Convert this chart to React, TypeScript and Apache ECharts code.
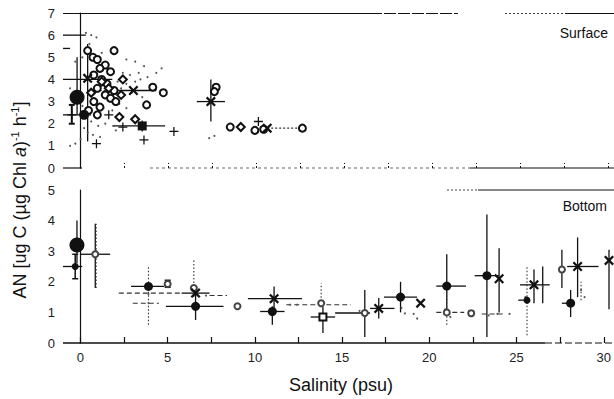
import React, { useEffect, useRef } from "react";
import * as echarts from "echarts";

// ---------- axis settings ----------
const xLabelValues = [0, 5, 10, 15, 20, 25, 30];
const xTickValues = [0, 2.5, 5, 7.5, 10, 12.5, 15, 17.5, 20, 22.5, 25, 27.5, 30];

// ---------- SURFACE panel ----------
const surfBigFilled = [[-0.2, 3.2]];
const surfFilled = [[0.2, 2.4]];
const surfSquare = [[3.5, 1.9]];
const surfCross = [[0.4, 4.05], [3.0, 3.5], [7.4, 3.0], [10.6, 1.8]];
const surfPlus = [[-0.5, 2.4], [0.9, 1.1], [1.6, 2.4], [2.4, 1.85], [3.6, 1.27], [5.3, 1.65], [10.1, 2.1]];
const surfCircle = [
  [0.4, 5.3], [0.7, 5.0], [0.95, 4.9], [1.4, 4.65], [1.1, 4.5], [1.7, 4.35], [0.75, 4.2], [1.2, 4.0],
  [1.5, 3.8], [0.95, 3.6], [1.9, 3.5], [1.4, 3.3], [1.7, 3.15], [2.0, 3.0], [0.75, 3.0], [1.1, 2.75],
  [0.45, 2.6], [0.95, 2.4], [1.9, 5.3], [4.1, 3.65], [4.7, 3.4], [3.75, 2.85], [7.7, 3.65], [7.6, 3.45],
  [8.5, 1.85], [9.9, 1.7], [10.4, 1.75], [12.6, 1.8]
];
const surfDiamond = [[2.2, 2.3], [3.1, 2.2], [1.2, 3.9], [1.6, 3.6], [2.3, 3.3], [0.6, 3.4], [9.1, 1.85], [2.4, 4.0]];
const surfDots = [
  [0.3, 6.1], [0.6, 6.0], [0.9, 5.9], [0.5, 5.6], [1.2, 5.2], [0.1, 5.0], [-0.3, 4.8], [2.6, 4.9],
  [3.1, 4.8], [3.6, 4.6], [4.6, 4.5], [2.4, 4.3], [2.8, 4.2], [3.3, 4.3], [3.8, 4.1], [2.1, 3.9],
  [2.6, 3.8], [3.1, 3.9], [2.3, 3.6], [2.9, 3.4], [3.5, 3.2], [-0.6, 3.6], [-0.4, 3.0], [0.1, 2.8],
  [0.6, 2.1], [1.0, 1.9], [1.4, 2.0], [1.9, 1.9], [2.0, 1.7], [0.2, 1.8], [0.4, 1.6], [0.7, 1.5],
  [1.1, 1.4], [0.0, 1.3], [-0.6, 1.0], [-0.3, 1.1], [1.3, 2.7], [1.8, 2.6], [2.2, 2.9], [2.6, 2.7],
  [7.3, 1.35], [7.6, 1.45], [4.3, 4.3], [3.4, 4.0]
];
// error bars: horizontal [y, xLow, xHigh], vertical [x, yLow, yHigh]
const surfHSolid = [[4.0, -1, 1.8], [3.5, 1.6, 4.3], [3.0, 6.6, 8.2], [1.9, 1.8, 4.8], [2.4, -1, 0.6], [6.0, -1, 0.3], [5.4, -1, -0.6]];
const surfHDotted = [[1.8, 10.6, 12.5], [3.5, 0.4, 1.6]];
const surfVSolid = [[0.4, 1.2, 5.6], [-0.2, 2.4, 5.0], [7.4, 2.1, 4.0], [3.5, 1.65, 2.15]];
const surfVCapped = [[-0.5, 2.0, 2.85]];

// ---------- BOTTOM panel ----------
const botBigFilled = [[-0.2, 3.2]];
const botFilled = [[3.9, 1.85], [6.6, 1.2], [11.0, 1.03], [18.35, 1.5], [21.0, 1.86], [23.3, 2.2], [28.1, 1.3]];
const botFilledSmall = [[25.6, 1.4], [-0.3, 2.5]];
const botCross = [[6.6, 1.63], [11.1, 1.45], [17.1, 1.13], [19.5, 1.3], [24.0, 2.1], [26.0, 1.9], [28.5, 2.5], [30.3, 2.7]];
const botSquareOpen = [[13.9, 0.85]];
const botSmallOpen = [[0.85, 2.9], [5.0, 1.93], [9.0, 1.2], [16.3, 0.98], [22.4, 0.97], [27.6, 2.4], [13.8, 1.3], [21.0, 1.0], [6.5, 1.8]];
const botDots = [
  [3.9, 1.6], [3.9, 1.3], [6.4, 1.75], [7.2, 1.55], [13.7, 1.35], [18.6, 0.97], [18.4, 1.15], [19.3, 0.8],
  [19.1, 0.95], [20.9, 1.1], [21.2, 0.85], [23.4, 0.9], [23.9, 0.95], [25.5, 1.5], [28.7, 1.73], [28.9, 1.5],
  [0.9, 3.0], [12.0, 1.25], [12.4, 1.25], [24.6, 0.95], [26.5, 1.85], [16.0, 1.05]
];
const botHSolid = [
  [2.5, -1, 0.1], [2.9, 0, 1.7], [1.85, 2.9, 4.8], [1.63, 5.8, 7.4], [1.2, 4.9, 8.2], [1.45, 9.6, 12.7],
  [1.03, 10.3, 11.7], [0.85, 13.2, 14.6], [0.98, 14.6, 16.6], [1.13, 16.6, 18.0], [1.5, 17.4, 19.3],
  [1.86, 20.4, 22.1], [2.2, 22.6, 24.0], [1.9, 25.2, 26.9], [2.5, 27.9, 29.7], [1.3, 27.6, 28.1], [1.4, 25.1, 25.6]
];
const botVSolid = [
  [-0.2, 2.6, 4.0], [0.85, 1.8, 3.9], [6.6, 0.75, 1.7], [11.1, 1.0, 1.85], [11.0, 0.6, 1.2], [13.9, 0.33, 1.2],
  [16.3, 0.2, 1.73], [17.1, 0.8, 1.47], [18.35, 1.0, 2.0], [21.0, 1.08, 2.9], [23.3, 0.2, 4.2], [24.0, 1.0, 3.1],
  [26.0, 1.3, 2.4], [26.5, 1.3, 2.5], [27.6, 1.8, 3.05], [28.5, 1.5, 3.45], [28.1, 0.85, 1.73], [30.3, 1.1, 3.05]
];
const botVCapped = [[-0.3, 2.1, 2.9], [5.0, 1.82, 2.05], [22.4, 0.9, 1.05]];
const botHDashed = [[1.63, 2.2, 5.8], [1.3, 3.0, 4.5], [1.25, 11.8, 15.5], [1.0, 20.4, 22.0], [0.95, 23.0, 24.3], [1.55, 7.4, 8.4]];
const botVDotted = [[3.9, 0.6, 2.5], [6.5, 1.5, 2.7], [13.8, 1.25, 1.95], [21.0, 0.6, 1.86], [25.6, 0.25, 2.5], [0.9, 1.8, 3.9], [28.7, 1.4, 2.0]];

const FONT = "'Liberation Sans', Arial, sans-serif";
const INK = "#111";

const CROSS = "path://M0,1.6L1.6,0L5,3.4L8.4,0L10,1.6L6.6,5L10,8.4L8.4,10L5,6.6L1.6,10L0,8.4L3.4,5Z";
const PLUS = "path://M4.3,0H5.7V4.3H10V5.7H5.7V10H4.3V5.7H0V4.3H4.3Z";

function hBars(data: number[][], grid: number, dash: number[] | null, width = 1.3) {
  return {
    type: "custom",
    xAxisIndex: grid,
    yAxisIndex: grid,
    clip: true,
    z: 1,
    encode: { x: [1, 2], y: 0 },
    data,
    renderItem: (_p: any, api: any) => {
      const y = api.value(0);
      const a = api.coord([api.value(1), y]);
      const b = api.coord([api.value(2), y]);
      return {
        type: "line",
        shape: { x1: a[0], y1: a[1], x2: b[0], y2: b[1] },
        style: { stroke: dash ? "#333" : INK, lineWidth: width, lineDash: dash || undefined },
      };
    },
  };
}

function vBars(data: number[][], grid: number, dash: number[] | null, caps = false, width = 1.3) {
  return {
    type: "custom",
    xAxisIndex: grid,
    yAxisIndex: grid,
    clip: true,
    z: 1,
    encode: { x: 0, y: [1, 2] },
    data,
    renderItem: (_p: any, api: any) => {
      const x = api.value(0);
      const a = api.coord([x, api.value(1)]);
      const b = api.coord([x, api.value(2)]);
      const style = { stroke: dash ? "#333" : INK, lineWidth: width, lineDash: dash || undefined };
      const children: any[] = [{ type: "line", shape: { x1: a[0], y1: a[1], x2: b[0], y2: b[1] }, style }];
      if (caps) {
        children.push({ type: "line", shape: { x1: a[0] - 3, y1: a[1], x2: a[0] + 3, y2: a[1] }, style });
        children.push({ type: "line", shape: { x1: b[0] - 3, y1: b[1], x2: b[0] + 3, y2: b[1] }, style });
      }
      return { type: "group", children };
    },
  };
}

function scatter(data: number[][], grid: number, symbol: string, size: number, filled = true, color = INK) {
  return {
    type: "scatter",
    xAxisIndex: grid,
    yAxisIndex: grid,
    z: 3,
    data,
    symbol,
    symbolSize: size,
    itemStyle: filled
      ? { color, opacity: 1 }
      : { color, borderColor: color, borderWidth: 1.3, opacity: 1 },
  };
}

export default function App() {
  const ref = useRef<HTMLDivElement>(null);
  useEffect(() => {
    if (!ref.current) return;
    const chart = echarts.init(ref.current, null, { renderer: "svg" });
    const xBase = {
      type: "value",
      min: -1,
      max: 30.3,
      splitLine: { show: false },
    };
    const yLabel = { fontSize: 13, color: "#222", fontFamily: FONT, margin: 8 };
    chart.setOption({
      animation: false,
      backgroundColor: "#fff",
      grid: [
        { left: 63, right: 0, top: 13, height: 155 },
        { left: 63, right: 0, top: 190, height: 153 },
      ],
      xAxis: [
        {
          ...xBase,
          gridIndex: 0,
          axisLine: { show: false },
          axisTick: { show: true, inside: true, length: 5, customValues: xTickValues, lineStyle: { color: INK, type: [2, 2] } },
          axisLabel: { show: false },
        },
        {
          ...xBase,
          gridIndex: 1,
          axisLine: { show: false },
          axisTick: { show: true, inside: true, length: 6, customValues: xTickValues, lineStyle: { color: INK, width: 1.2 } },
          axisLabel: { customValues: xLabelValues, fontSize: 13, color: "#222", fontFamily: FONT, margin: 8 },
        },
      ],
      yAxis: [
        {
          type: "value", gridIndex: 0, min: 0, max: 7, interval: 1,
          axisLine: { show: true, lineStyle: { color: INK, width: 1.2 } },
          axisTick: { show: false }, splitLine: { show: false }, axisLabel: yLabel,
        },
        {
          type: "value", gridIndex: 1, min: 0, max: 5, interval: 1,
          axisLine: { show: true, lineStyle: { color: INK, width: 1.2 } },
          axisTick: { show: false }, splitLine: { show: false }, axisLabel: yLabel,
        },
      ],
      graphic: [
        // panel frame fragments
        { type: "line", shape: { x1: 63, y1: 13.5, x2: 370, y2: 13.5 }, style: { stroke: INK, lineWidth: 1.2 } },
        { type: "line", shape: { x1: 370, y1: 13.5, x2: 458, y2: 13.5 }, style: { stroke: INK, lineWidth: 1.1, lineDash: [12, 2] } },
        { type: "line", shape: { x1: 505, y1: 13.5, x2: 565, y2: 13.5 }, style: { stroke: "#444", lineWidth: 1, lineDash: [2, 2] } },
        { type: "line", shape: { x1: 565, y1: 13.5, x2: 614, y2: 13.5 }, style: { stroke: INK, lineWidth: 1.2 } },
        { type: "line", shape: { x1: 63, y1: 168, x2: 82, y2: 168 }, style: { stroke: INK, lineWidth: 1.2 } },
        { type: "line", shape: { x1: 150, y1: 168, x2: 470, y2: 168 }, style: { stroke: "#666", lineWidth: 1, lineDash: [3, 3] } },
        { type: "line", shape: { x1: 470, y1: 168, x2: 614, y2: 168 }, style: { stroke: INK, lineWidth: 1.2 } },
        { type: "line", shape: { x1: 447, y1: 190, x2: 478, y2: 190 }, style: { stroke: "#444", lineWidth: 1, lineDash: [2, 2] } },
        { type: "line", shape: { x1: 478, y1: 190, x2: 614, y2: 190 }, style: { stroke: INK, lineWidth: 1.2 } },
        { type: "line", shape: { x1: 63, y1: 343, x2: 545, y2: 343 }, style: { stroke: INK, lineWidth: 1.3 } },
        { type: "line", shape: { x1: 545, y1: 343, x2: 614, y2: 343 }, style: { stroke: INK, lineWidth: 1.2, lineDash: [7, 3] } },
        {
          type: "text", x: 608, y: 33,
          style: { text: "Surface", fill: INK, font: `14px ${FONT}`, align: "right", verticalAlign: "middle" },
        },
        {
          type: "text", x: 607, y: 206,
          style: { text: "Bottom", fill: INK, font: `14px ${FONT}`, align: "right", verticalAlign: "middle" },
        },
        {
          type: "text", x: 341, y: 385,
          style: { text: "Salinity (psu)", fill: INK, font: `18px ${FONT}`, align: "center", verticalAlign: "middle" },
        },
        {
          type: "text", x: 20, y: 200, rotation: Math.PI / 2,
          style: {
            text: "{m|AN [ug C (µg Chl }{i|a}{m|)}{s|-1}{m| h}{s|-1}{m|]}",
            align: "center",
            verticalAlign: "middle",
            fill: INK,
            rich: {
              m: { fontSize: 18, fontFamily: FONT, fill: INK, lineHeight: 22 },
              i: { fontSize: 18, fontFamily: FONT, fontStyle: "italic", fill: INK, lineHeight: 22 },
              s: { fontSize: 11, fontFamily: FONT, fill: INK, lineHeight: 14, verticalAlign: "top" },
            },
          },
        },
      ],
      series: [
        // surface error bars
        hBars(surfHSolid, 0, null),
        hBars(surfHDotted, 0, [2, 2], 1.1),
        vBars(surfVSolid, 0, null),
        vBars(surfVCapped, 0, null, true, 2),
        // surface markers
        scatter(surfDots, 0, "circle", 2, true, "#555"),
        scatter(surfCircle, 0, "emptyCircle", 7, false),
        scatter(surfDiamond, 0, "emptyDiamond", 8, false),
        scatter(surfPlus, 0, PLUS, 9),
        scatter(surfSquare, 0, "rect", 9),
        scatter(surfCross, 0, CROSS, 10),
        scatter(surfFilled, 0, "circle", 10),
        scatter(surfBigFilled, 0, "circle", 15),
        // bottom error bars
        hBars(botHSolid, 1, null),
        vBars(botVSolid, 1, null),
        vBars(botVCapped, 1, null, true, 1.5),
        hBars(botHDashed, 1, [5, 3], 1.1),
        vBars(botVDotted, 1, [1.5, 2], false, 1.1),
        // bottom markers
        scatter(botDots, 1, "circle", 2, true, "#555"),
        scatter(botSmallOpen, 1, "emptyCircle", 6, false, "#444"),
        scatter(botSquareOpen, 1, "emptyRect", 7, false),
        scatter(botFilledSmall, 1, "circle", 7),
        scatter(botFilled, 1, "circle", 9),
        scatter(botCross, 1, CROSS, 10),
        scatter(botBigFilled, 1, "circle", 15),
      ],
    });
    return () => chart.dispose();
  }, []);
  return (
    <div
      ref={ref}
      style={{ position: "absolute", left: 0, top: 0, width: 614, height: 399, background: "#fff" }}
    />
  );
}
